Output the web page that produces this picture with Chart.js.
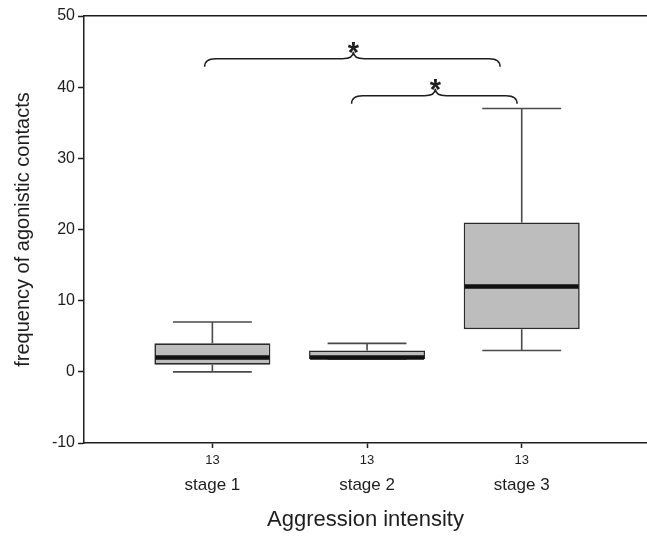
<!DOCTYPE html>
<html>
<head>
<meta charset="utf-8">
<script src="https://cdn.jsdelivr.net/npm/chart.js@4/dist/chart.umd.min.js"></script>
<style>
  html, body { margin: 0; padding: 0; background: #fff; }
  #wrap { width: 647px; height: 536px; }
</style>
</head>
<body>
<div id="wrap"><canvas id="c" width="647" height="536"></canvas></div>
<script>
// ---- data ----
const categories = ['stage 1', 'stage 2', 'stage 3'];
const nLabels = ['13', '13', '13'];
const whiskerMin = [0, 1.8, 3];
const quartile1 = [1, 1.8, 6];
const medians = [2, 2, 12];
const quartile3 = [4, 3, 21];
const whiskerMax = [7, 4, 37];
const yTicks = [-10, 0, 10, 20, 30, 40, 50];
// significance comparisons (brace from / to on the category axis, height in data units)
const braceFrom = [0.95, 1.9];
const braceTo = [2.86, 2.97];
const braceY = [44, 38.8];
const braceLabel = ['*', '*'];

const FONT = '"Liberation Sans", Arial, Helvetica, sans-serif';
const INK = '#1e1e1e';
const X_MIN = 0.17, X_MAX = 3.81;

const catTicks = (scale) => { scale.ticks = categories.map((c, i) => ({ value: i + 1 })); };

const boxPlugin = {
  id: 'boxExtras',
  beforeDatasetsDraw(chart) {
    const ctx = chart.ctx, xs = chart.scales.x, ys = chart.scales.y;
    const meta = chart.getDatasetMeta(0);
    ctx.save();
    ctx.strokeStyle = '#4a4a4a';
    ctx.lineWidth = 1.6;
    categories.forEach((c, i) => {
      const px = xs.getPixelForValue(i + 1);
      const bw = meta.data[i].width;
      const cap = bw * 0.34;
      const yMax = ys.getPixelForValue(whiskerMax[i]);
      const yQ3 = ys.getPixelForValue(quartile3[i]);
      const yQ1 = ys.getPixelForValue(quartile1[i]);
      const yMin = ys.getPixelForValue(whiskerMin[i]);
      ctx.beginPath();
      ctx.moveTo(px, yQ3); ctx.lineTo(px, yMax);
      ctx.moveTo(px - cap, yMax); ctx.lineTo(px + cap, yMax);
      ctx.moveTo(px, yQ1); ctx.lineTo(px, yMin);
      ctx.moveTo(px - cap, yMin); ctx.lineTo(px + cap, yMin);
      ctx.stroke();
    });
    ctx.restore();
  },
  afterDatasetsDraw(chart) {
    const ctx = chart.ctx, xs = chart.scales.x, ys = chart.scales.y;
    const meta = chart.getDatasetMeta(0);
    ctx.save();
    // medians
    ctx.strokeStyle = '#111';
    ctx.lineWidth = 4.5;
    categories.forEach((c, i) => {
      const px = xs.getPixelForValue(i + 1);
      const bw = meta.data[i].width;
      const ym = ys.getPixelForValue(medians[i]);
      ctx.beginPath();
      ctx.moveTo(px - bw / 2 + 1, ym); ctx.lineTo(px + bw / 2 - 1, ym);
      ctx.stroke();
    });
    // braces
    ctx.strokeStyle = INK;
    ctx.lineWidth = 1.5;
    const h = 8, r = 11, p = 7;
    braceFrom.forEach((f, i) => {
      const x0 = xs.getPixelForValue(f);
      const x1 = xs.getPixelForValue(braceTo[i]);
      const y = ys.getPixelForValue(braceY[i]);
      const mid = (x0 + x1) / 2 + 1;
      ctx.beginPath();
      ctx.moveTo(x0, y + h);
      ctx.quadraticCurveTo(x0, y, x0 + r, y);
      ctx.lineTo(mid - r, y);
      ctx.quadraticCurveTo(mid, y, mid, y - p);
      ctx.quadraticCurveTo(mid, y, mid + r, y);
      ctx.lineTo(x1 - r, y);
      ctx.quadraticCurveTo(x1, y, x1, y + h);
      ctx.stroke();
      ctx.fillStyle = INK;
      ctx.font = 'bold 29px ' + FONT;
      ctx.textAlign = 'center';
      ctx.textBaseline = 'alphabetic';
      ctx.fillText(braceLabel[i], mid, y + 3);
    });
    ctx.restore();
  }
};

new Chart(document.getElementById('c'), {
  type: 'bar',
  data: {
    datasets: [{
      xAxisID: 'x',
      yAxisID: 'y',
      data: categories.map((c, i) => ({ x: i + 1, y: [quartile1[i], quartile3[i]] })),
      backgroundColor: '#bdbdbd',
      borderColor: '#2a2a2a',
      borderWidth: 1.6,
      borderSkipped: false,
      categoryPercentage: 0.75,
      barPercentage: 1
    }]
  },
  options: {
    responsive: false,
    animation: false,
    layout: { padding: 0 },
    plugins: { legend: { display: false }, tooltip: { enabled: false } },
    scales: {
      x: {
        type: 'linear', position: 'bottom', min: X_MIN, max: X_MAX, offset: false,
        afterBuildTicks: catTicks,
        ticks: {
          callback: (v, i) => nLabels[i],
          font: { family: FONT, size: 13 }, color: INK, padding: 5,
          maxRotation: 0, autoSkip: false
        },
        grid: { offset: false, drawOnChartArea: false, tickLength: 5, color: INK, tickWidth: 1.5 },
        border: { display: true, color: INK, width: 1.5 },
        afterFit: (s) => { s.height = 30; }
      },
      x2: {
        type: 'linear', position: 'bottom', min: X_MIN, max: X_MAX, offset: false,
        afterBuildTicks: catTicks,
        ticks: {
          callback: (v, i) => categories[i],
          font: { family: FONT, size: 17 }, color: INK, padding: 2,
          maxRotation: 0, autoSkip: false
        },
        grid: { display: false, drawTicks: false, offset: false },
        border: { display: false },
        title: {
          display: true, text: 'Aggression intensity',
          font: { family: FONT, size: 22 }, color: INK,
          padding: { top: 0, bottom: 3 }
        },
        afterFit: (s) => { s.height = 63; }
      },
      xTop: {
        type: 'linear', position: 'top', min: X_MIN, max: X_MAX, offset: false,
        ticks: { display: false },
        grid: { offset: false, drawOnChartArea: false, drawTicks: false },
        border: { display: true, color: INK, width: 1.5 },
        afterFit: (s) => { s.height = 16; }
      },
      y: {
        type: 'linear', position: 'left', min: -10, max: 50,
        afterBuildTicks: (s) => { s.ticks = yTicks.map(v => ({ value: v })); },
        ticks: { font: { family: FONT, size: 16 }, color: INK, padding: 3 },
        grid: { drawOnChartArea: false, tickLength: 6, color: INK, tickWidth: 1.5 },
        border: { display: true, color: INK, width: 1.5 },
        title: {
          display: true, text: 'frequency of agonistic contacts',
          font: { family: FONT, size: 20 }, color: INK,
          padding: { top: 11, bottom: 0 }
        },
        afterFit: (s) => { s.width = 84; }
      }
    }
  },
  plugins: [boxPlugin]
});
</script>
</body>
</html>
